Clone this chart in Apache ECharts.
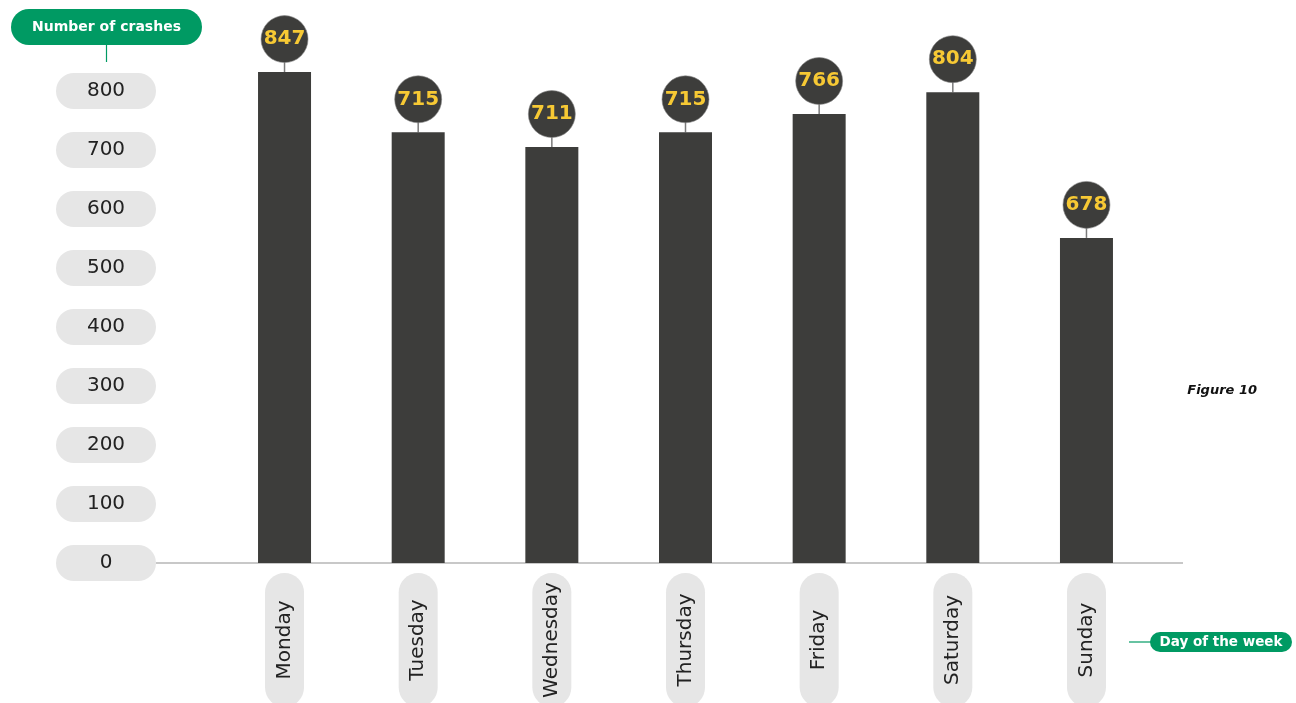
<!DOCTYPE html>
<html>
<head>
<meta charset="utf-8">
<script src="https://cdn.jsdelivr.net/npm/echarts@6/dist/echarts.min.js"></script>
<style>
  html, body { margin: 0; padding: 0; background: #fff; }
  #chart { width: 1296px; height: 703px; }
</style>
</head>
<body>
<div id="chart"></div>
<script>
const days = ['Monday', 'Tuesday', 'Wednesday', 'Thursday', 'Friday', 'Saturday', 'Sunday']
// bar heights as drawn in the figure
const barValues = [832, 730, 705, 730, 761, 798, 551]
// values printed in the bubbles
const crashLabels = [847, 715, 711, 715, 766, 804, 678]
const yTicks = [0, 100, 200, 300, 400, 500, 600, 700, 800]

const FONT = '"DejaVu Sans", "Noto Sans", sans-serif'
const GREEN = '#009a63'
const DARK = '#3d3d3b'
const PILL = '#e6e6e6'

const chart = echarts.init(document.getElementById('chart'))

const option = {
  animation: false,
  backgroundColor: '#fff',
  grid: { left: 217.7, right: 142.7, top: 32, bottom: 140, containLabel: false, outerBoundsMode: 'none' },
  xAxis: {
    type: 'category',
    data: days,
    axisLine: { show: false },
    axisTick: { show: false },
    axisLabel: {
      rotate: 90,
      margin: 10,
      formatter: (v) => `{p|${v}}`,
      rich: {
        p: {
          width: 134,
          height: 39,
          lineHeight: 39,
          align: 'center',
          backgroundColor: PILL,
          borderRadius: 19.5,
          fontFamily: FONT,
          fontSize: 20,
          color: '#222'
        }
      }
    }
  },
  yAxis: {
    type: 'value',
    min: 0,
    max: 900,
    interval: 100,
    splitLine: { show: false },
    axisLine: { show: false },
    axisTick: { show: false },
    axisLabel: {
      showMaxLabel: false,
      margin: 111.7,
      align: 'center',
      width: 100,
      height: 36,
      lineHeight: 36,
      backgroundColor: PILL,
      borderRadius: 18,
      fontFamily: FONT,
      fontSize: 20,
      color: '#222',
      formatter: (v) => (yTicks.includes(v) ? String(v) : '')
    }
  },
  series: [
    {
      name: 'Number of crashes',
      type: 'bar',
      barWidth: 53,
      data: barValues,
      itemStyle: { color: DARK }
    },
    {
      name: 'labels',
      type: 'custom',
      data: days.map((d, i) => [i, barValues[i], crashLabels[i]]),
      renderItem: (params, api) => {
        const p = api.coord([api.value(0), api.value(1)])
        const cy = p[1] - 33
        return {
          type: 'group',
          children: [
            {
              type: 'line',
              shape: { x1: p[0], y1: p[1], x2: p[0], y2: cy },
              style: { stroke: '#7a7a7a', lineWidth: 1.5 }
            },
            {
              type: 'circle',
              shape: { cx: p[0], cy: cy, r: 23.5 },
              style: { fill: DARK, stroke: '#8a8a8a', lineWidth: 0.6 }
            },
            {
              type: 'text',
              x: p[0],
              y: cy,
              style: {
                text: String(api.value(2)),
                fill: '#f7c934',
                font: `bold 20px ${FONT}`,
                align: 'center',
                verticalAlign: 'middle'
              }
            }
          ]
        }
      }
    }
  ]
}

chart.setOption(option)

// decorations: baseline, axis name pills, figure caption
const y0 = chart.convertToPixel({ yAxisIndex: 0 }, 0)
chart.setOption({
  graphic: [
    {
      type: 'line',
      shape: { x1: 156, y1: y0, x2: 1183, y2: y0 },
      style: { stroke: '#c8c8c8', lineWidth: 2 },
      z: 1
    },
    {
      type: 'line',
      shape: { x1: 106.5, y1: 44, x2: 106.5, y2: 62 },
      style: { stroke: GREEN, lineWidth: 1.2 }
    },
    {
      type: 'rect',
      shape: { x: 11, y: 9, width: 191, height: 36, r: 18 },
      style: { fill: GREEN }
    },
    {
      type: 'text',
      x: 106.5,
      y: 27.5,
      style: {
        text: 'Number of crashes',
        fill: '#fff',
        font: `bold 14px ${FONT}`,
        align: 'center',
        verticalAlign: 'middle'
      }
    },
    {
      type: 'line',
      shape: { x1: 1129, y1: 642, x2: 1152, y2: 642 },
      style: { stroke: GREEN, lineWidth: 1.2 }
    },
    {
      type: 'rect',
      shape: { x: 1150, y: 632, width: 142, height: 20, r: 10 },
      style: { fill: GREEN }
    },
    {
      type: 'text',
      x: 1221,
      y: 642,
      style: {
        text: 'Day of the week',
        fill: '#fff',
        font: `bold 13.5px ${FONT}`,
        align: 'center',
        verticalAlign: 'middle'
      }
    },
    {
      type: 'text',
      x: 1257,
      y: 391,
      style: {
        text: 'Figure 10',
        fill: '#111',
        font: `italic bold 13px ${FONT}`,
        align: 'right',
        verticalAlign: 'middle'
      }
    }
  ]
})
</script>
</body>
</html>
